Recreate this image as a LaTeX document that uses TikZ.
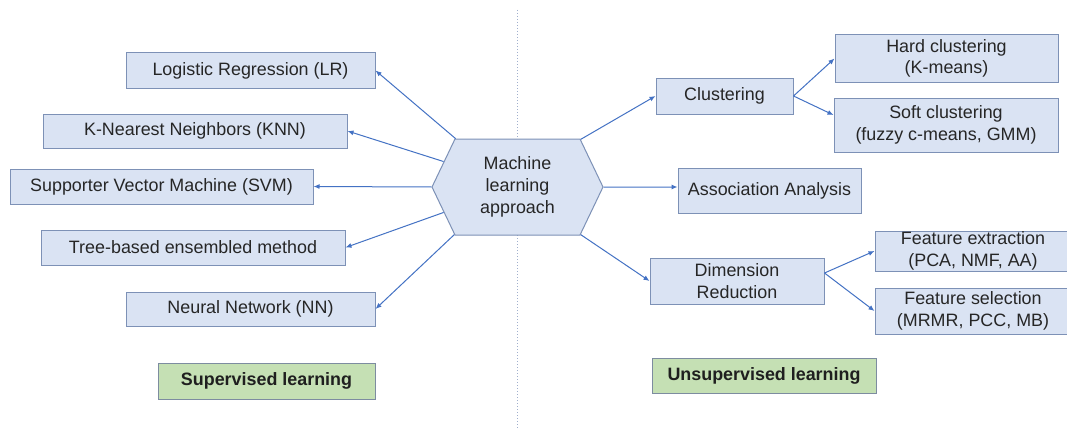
\documentclass[tikz,border=0pt]{standalone}
\usepackage{fontspec}
\setmainfont{Liberation Sans}
\usetikzlibrary{shapes.symbols,arrows.meta}
\definecolor{boxfill}{RGB}{218,227,243}
\definecolor{boxdraw}{RGB}{125,145,182}
\definecolor{arrowcol}{RGB}{68,114,196}
\definecolor{greenfill}{RGB}{197,224,180}
\definecolor{greendraw}{RGB}{125,140,160}
\definecolor{textcol}{RGB}{38,38,38}
\definecolor{dotcol}{RGB}{160,175,205}
\begin{document}
\begin{tikzpicture}[x=1pt,y=-1pt,
  box/.style={draw=boxdraw, fill=boxfill, line width=1pt, inner sep=0pt, align=center,
    text=textcol, font=\fontsize{17.9}{21.7}\selectfont},
  greenbox/.style={draw=greendraw, fill=greenfill, line width=1pt, inner sep=0pt, align=center,
    text=black!88, font=\fontsize{17.9}{21.7}\selectfont\bfseries},
  hexa/.style={shape=signal, signal to=west and east, signal pointer angle=128.8,
    draw=boxdraw, fill=boxfill, line width=1pt, inner sep=0pt, align=center,
    minimum width=171pt, minimum height=96pt,
    text=textcol, font=\fontsize{17.9}{21.7}\selectfont},
  arr/.style={draw=arrowcol, line width=1pt, -{Latex[length=6pt,width=5pt]}},
  divider/.style={draw=dotcol, line width=1pt, dotted}
]
\useasboundingbox (0,0) rectangle (1067,428);
\fill[white] (0,0) rectangle (1067,428);

\coordinate (dtop) at (517,10);
\coordinate (dbot) at (517,428);
\draw[divider] (dtop) -- (dbot);

% centre
\node[hexa] (hex) at (517.5,187) {Machine\\learning\\approach};

% supervised
\node[box, minimum width=249pt, minimum height=35pt] (lr) at (250.5,70.5) {Logistic Regression (LR)};
\node[box, minimum width=304pt, minimum height=34pt] (knn) at (195,131) {K-Nearest Neighbors (KNN)};
\node[box, minimum width=303pt, minimum height=35pt] (svm) at (161.5,186.5) {Supporter Vector Machine (SVM)};
\node[box, minimum width=304pt, minimum height=35pt] (tree) at (193,247.5) {Tree-based ensembled method};
\node[box, minimum width=249pt, minimum height=34pt] (nn) at (250.5,309) {Neural Network (NN)};

% unsupervised
\node[box, minimum width=137pt, minimum height=36pt] (clus) at (724.5,96) {Clustering};
\node[box, minimum width=223pt, minimum height=47pt] (hard) at (946.5,58.5) {Hard clustering\\(K-means)};
\node[box, minimum width=224pt, minimum height=54pt] (soft) at (946,125) {Soft clustering\\(fuzzy c-means, GMM)};
\node[box, minimum width=183pt, minimum height=45pt] (assoc) at (769.5,190.5) {Association Analysis};
\node[box, minimum width=174pt, minimum height=46pt] (dim) at (737,281) {Dimension\\Reduction};
\node[box, minimum width=196pt, minimum height=40pt] (fe) at (973,251) {Feature extraction\\(PCA, NMF, AA)};
\node[box, minimum width=196pt, minimum height=46pt] (fs) at (973,311) {Feature selection\\(MRMR, PCC, MB)};

% labels
\node[greenbox, minimum width=217pt, minimum height=36pt] (sup) at (266.5,381) {Supervised learning};
\node[greenbox, minimum width=224pt, minimum height=35pt] (unsup) at (764,375.5) {Unsupervised learning};

% connectors
\draw[arr] (hex.142.5) -- (lr.east);
\draw[arr] (hex.161.5) -- (knn.east);
\draw[arr] (hex.180) -- (svm.east);
\draw[arr] (hex.199.2) -- (tree.east);
\draw[arr] (hex.217.5) -- (nn.east);
\draw[arr] (hex.37.5) -- (clus.west);
\draw[arr] (hex.0) -- ([yshift=3.5pt]assoc.west);
\draw[arr] (hex.-37.5) -- (dim.west);
\draw[arr] (clus.east) -- (hard.west);
\draw[arr] (clus.east) -- ([yshift=10pt]soft.west);
\draw[arr] ([yshift=8pt]dim.east) -- (fe.west);
\draw[arr] ([yshift=8pt]dim.east) -- (fs.west);
\end{tikzpicture}
\end{document}
